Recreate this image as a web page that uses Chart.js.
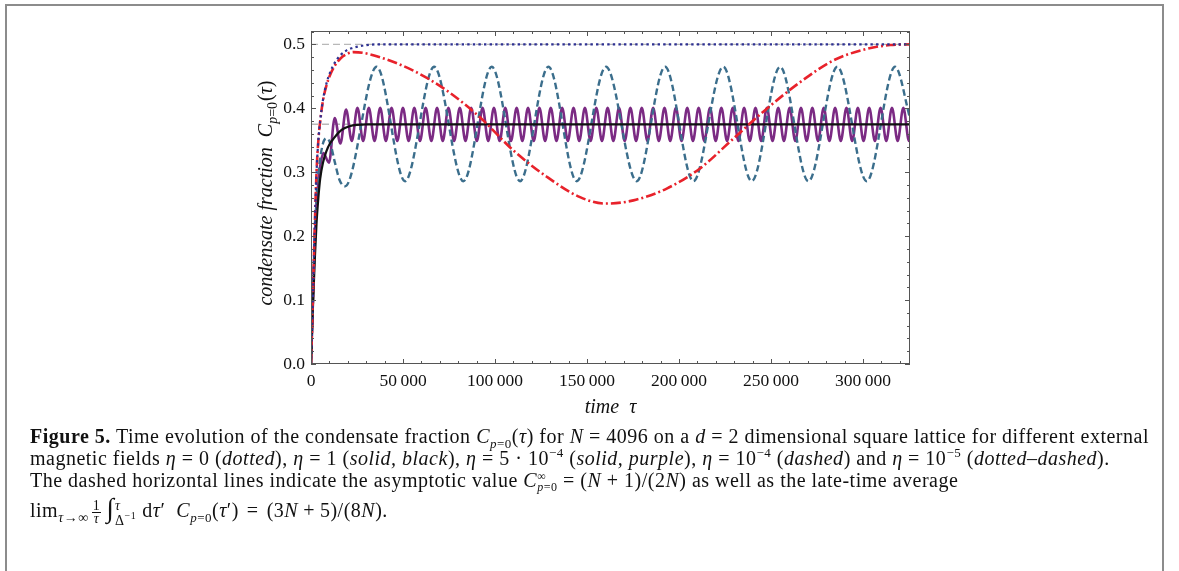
<!DOCTYPE html>
<html><head><meta charset="utf-8">
<script src="https://cdn.jsdelivr.net/npm/chart.js@4.4.1/dist/chart.umd.min.js"></script>
<style>
html,body{margin:0;padding:0;background:#fff;}
body{width:1179px;height:571px;position:relative;overflow:hidden;font-family:"Liberation Serif","Times New Roman",serif;color:#111;}
#frame{position:absolute;left:5px;top:4px;width:1155px;height:600px;border-left:2px solid #8c8c8c;border-top:2px solid #8c8c8c;border-right:2px solid #8c8c8c;}
#wrap{position:absolute;left:0;top:0;width:1179px;height:430px;}
#cap{position:absolute;left:30px;top:425px;font-size:20px;letter-spacing:0.5px;line-height:22px;white-space:nowrap;}
#cap i{font-style:italic;}
.frac{display:inline-block;vertical-align:middle;text-align:center;font-size:14px;line-height:12px;margin:0 3px;}
.frac span{display:block;}
.frac .n{border-bottom:0.8px solid #111;padding:0 1px;}
.int{display:inline-block;position:relative;font-size:27px;margin-left:2px;}
.lims{display:inline-block;vertical-align:middle;font-size:14px;line-height:15px;margin-left:1px;margin-right:6px;}
.lims span{display:block;}
sub,sup{font-size:13px;line-height:0;}
.eq{margin:0 8px;}
.pl{margin:0 5px;}
</style></head><body>
<div id="frame"></div>
<div id="wrap"><canvas id="c" width="1179" height="430"></canvas></div>
<div id="cap">
<div><b>Figure 5.</b> Time evolution of the condensate fraction <i>C</i><sub><i>p</i>=0</sub>(<i>τ</i>) for <i>N</i> = 4096 on a <i>d</i> = 2 dimensional square lattice for different external</div>
<div>magnetic fields <i>η</i> = 0 (<i>dotted</i>), <i>η</i> = 1 (<i>solid, black</i>), <i>η</i> = 5 · 10<sup>−4</sup> (<i>solid, purple</i>), <i>η</i> = 10<sup>−4</sup> (<i>dashed</i>) and <i>η</i> = 10<sup>−5</sup> (<i>dotted–dashed</i>).</div>
<div>The dashed horizontal lines indicate the asymptotic value <i>C</i><span style="display:inline-block;vertical-align:middle;font-size:12px;line-height:11px;"><span style="display:block">∞</span><span style="display:block"><i>p</i>=0</span></span> = (<i>N</i> + 1)/(2<i>N</i>) as well as the late-time average</div>
<div style="margin-top:4px">lim<sub style="font-size:14px"><i>τ</i>→∞</sub><span class="frac"><span class="n">1</span><span><i>τ</i></span></span><span class="int">∫</span><span class="lims"><span><i>τ</i></span><span>Δ<sup style="font-size:10px">−1</sup></span></span>d<i>τ</i>′&nbsp; <i>C</i><sub><i>p</i>=0</sub>(<i>τ</i>′)<span class="eq">=</span>(3<i>N</i><span class="pl">+</span>5)/(8<i>N</i>).</div>
</div>
<script>
// ---- data (tau, condensate fraction) ----
const xTicks = [0, 50000, 100000, 150000, 200000, 250000, 300000];
const xTickLabels = ['0', '50\u2009000', '100\u2009000', '150\u2009000', '200\u2009000', '250\u2009000', '300\u2009000'];
const yTicks = [0, 0.1, 0.2, 0.3, 0.4, 0.5];
const yTickLabels = ['0.0', '0.1', '0.2', '0.3', '0.4', '0.5'];

const asymptoteValue = 0.5;      // (N+1)/(2N)
const lateAverageValue = 0.375;  // (3N+5)/(8N)

const blueTau = [0,1000,2000,3000,4000,5000,6500,8500,10500,13000,16000,19000,22000,26000,30000,36000,325500];
const blueC   = [0,0.10,0.21,0.30,0.35,0.38,0.413,0.44,0.457,0.472,0.483,0.49,0.494,0.497,0.499,0.5,0.5];

const blackTau = [0,1000,2000,3000,4000,5000,6500,8500,10300,12100,15000,17600,21000,24800,30000,325500];
const blackC   = [0,0.085,0.16,0.22,0.26,0.29,0.315,0.334,0.345,0.352,0.362,0.368,0.372,0.374,0.375,0.375];

// eta = 5e-4: rise, then peaks / troughs
const purpleTau = [0,1000,2000,3000,4200,5300,
 6700,9790,12880,15970,19060,22150,
 25240,28330,31420,34510,37600,40690,43780,46870,49960,53050,56140,59230,62320,65410,68500,71590,74680,77770,
 80860,83950,87040,90130,93220,96310,99400,102490,105580,108670,111760,114850,117940,121030,124120,127210,
 130300,133390,136480,139570,142660,145750,148840,151930,155020,158110,161200,164290,167380,170470,173560,176650,
 179740,182830,185920,189010,192100,195190,198280,201370,204460,207550,210640,213730,216820,219910,223000,226090,
 229180,232270,235360,238450,241540,244630,247720,250810,253900,256990,260080,263170,266260,269350,272440,275530,
 278620,281710,284800,287890,290980,294070,297160,300250,303340,306430,309520,312610,315700,318790,321880,324970,
 325500];
const purpleC = [0,0.10,0.19,0.25,0.29,0.315,
 0.33,0.315,0.385,0.345,0.398,0.349,
 0.401,0.349,0.401,0.349,0.401,0.349,0.401,0.349,0.401,0.349,0.401,0.349,0.401,0.349,0.401,0.349,0.401,0.349,
 0.401,0.349,0.401,0.349,0.401,0.349,0.401,0.349,0.401,0.349,0.401,0.349,0.401,0.349,0.401,0.349,
 0.401,0.349,0.401,0.349,0.401,0.349,0.401,0.349,0.401,0.349,0.401,0.349,0.401,0.349,0.401,0.349,
 0.401,0.349,0.401,0.349,0.401,0.349,0.401,0.349,0.401,0.349,0.401,0.349,0.401,0.349,0.401,0.349,
 0.401,0.349,0.401,0.349,0.401,0.349,0.401,0.349,0.401,0.349,0.401,0.349,0.401,0.349,0.401,0.349,
 0.401,0.349,0.401,0.349,0.401,0.349,0.401,0.349,0.401,0.349,0.401,0.349,0.401,0.349,0.401,0.349,
 0.351];

const tealTau = [0,1000,2000,3000,4500,6500,8500,10500,13000,15500,18500,
 35700,51100,66900,82800,98200,113600,129000,144400,160300,177000,192400,207800,224000,239500,254900,270300,286000,302000,317400,325500];
const tealC = [0,0.10,0.19,0.26,0.31,0.345,0.353,0.345,0.315,0.288,0.278,
 0.465,0.286,0.465,0.286,0.465,0.286,0.465,0.286,0.465,0.286,0.465,0.286,0.465,0.286,0.465,0.286,0.465,0.286,0.465,0.385];

const redTau = [0,1000,2000,3000,4000,5000,6500,8500,10500,13000,16000,19500,23000,28000,37500,55600,73700,91800,
 110000,128100,146200,160000,175200,193300,211400,229500,247700,265800,283900,302000,314700,325500];
const redC = [0,0.10,0.21,0.30,0.35,0.38,0.412,0.437,0.453,0.467,0.478,0.485,0.488,0.487,0.480,0.459,0.428,0.386,
 0.334,0.293,0.261,0.251,0.256,0.2745,0.306,0.3526,0.3995,0.441,0.475,0.493,0.499,0.5];

const xMin = 0, xMax = 325500, yMin = 0, yMax = 0.521;
const xMinorStep = 10000, yMinorStep = 0.02;

const pts = (t, c) => t.map((v, i) => ({x: v, y: c[i]}));

const serif = '"Liberation Serif","Times New Roman",serif';

const framePlugin = {
  id: 'framePlugin',
  afterDatasetsDraw(chart) {
    const {ctx, chartArea: a, scales: {x, y}} = chart;
    ctx.save();
    ctx.strokeStyle = '#555';
    ctx.lineWidth = 1;
    ctx.strokeRect(Math.round(a.left) + 0.5, Math.round(a.top) + 0.5, Math.round(a.right - a.left) - 1, Math.round(a.bottom - a.top) - 1);
    ctx.beginPath();
    const maj = 5, mn = 3;
    for (let v = 0; v <= xMax + 1; v += xMinorStep) {
      const isMaj = xTicks.includes(v);
      const L = isMaj ? maj : mn;
      const px = Math.round(x.getPixelForValue(v)) + 0.5;
      ctx.moveTo(px, a.bottom); ctx.lineTo(px, a.bottom - L);
      ctx.moveTo(px, a.top); ctx.lineTo(px, a.top + L);
    }
    for (let k = 0; k * yMinorStep <= yMax + 1e-9; k++) {
      const v = k * yMinorStep;
      const isMaj = k % 5 === 0;
      const L = isMaj ? maj : mn;
      const py = Math.round(y.getPixelForValue(v)) + 0.5;
      ctx.moveTo(a.left, py); ctx.lineTo(a.left + L, py);
      ctx.moveTo(a.right, py); ctx.lineTo(a.right - L, py);
    }
    ctx.stroke();
    // axis titles
    ctx.fillStyle = '#111';
    ctx.textBaseline = 'alphabetic';
    ctx.font = 'italic 20px ' + serif;
    ctx.textAlign = 'center';
    ctx.fillText('time  \u03c4', (a.left + a.right) / 2, 413);
    // rotated y title with subscript
    ctx.save();
    ctx.translate(272, 193);
    ctx.rotate(-Math.PI / 2);
    ctx.textAlign = 'left';
    const f1 = 'italic 20px ' + serif, f2 = 'italic 14px ' + serif, f3 = '20px ' + serif;
    const s1 = 'condensate fraction  C', s2 = 'p', s2b = '=0', s3a = '(', s3b = '\u03c4', s3c = ')';
    ctx.font = f1; const w1 = ctx.measureText(s1).width;
    ctx.font = f2; const w2 = ctx.measureText(s2).width;
    ctx.font = '14px ' + serif; const w2b = ctx.measureText(s2b).width;
    ctx.font = f3; const w3a = ctx.measureText(s3a).width, w3c = ctx.measureText(s3c).width;
    ctx.font = f1; const w3b = ctx.measureText(s3b).width;
    const total = w1 + w2 + w2b + w3a + w3b + w3c + 1;
    let cx = -total / 2;
    ctx.font = f1; ctx.fillText(s1, cx, 0); cx += w1;
    ctx.font = f2; ctx.fillText(s2, cx, 5); cx += w2;
    ctx.font = '14px ' + serif; ctx.fillText(s2b, cx, 5); cx += w2b + 1;
    ctx.font = f3; ctx.fillText(s3a, cx, 0); cx += w3a;
    ctx.font = f1; ctx.fillText(s3b, cx, 0); cx += w3b;
    ctx.font = f3; ctx.fillText(s3c, cx, 0);
    ctx.restore();
    ctx.restore();
  }
};

const common = {pointRadius: 0, fill: false, cubicInterpolationMode: 'monotone'};

new Chart(document.getElementById('c'), {
  type: 'line',
  data: {
    datasets: [
      Object.assign({label: 'eta=0', data: pts(blueTau, blueC), borderColor: '#2e3192', borderWidth: 2.2, borderDash: [2.4, 3.2], order: 0}, common),
      Object.assign({label: 'eta=1e-5', data: pts(redTau, redC), borderColor: '#e8222b', borderWidth: 2.6, borderDash: [10, 3, 2, 3], order: 1}, common),
      Object.assign({label: 'eta=1', data: pts(blackTau, blackC), borderColor: '#111111', borderWidth: 2.2, order: 2}, common),
      Object.assign({label: 'eta=1e-4', data: pts(tealTau, tealC), borderColor: '#3b6e8c', borderWidth: 2.4, borderDash: [6.5, 3.5], order: 3}, common),
      Object.assign({label: 'eta=5e-4', data: pts(purpleTau, purpleC), borderColor: '#7b2a83', borderWidth: 2.6, order: 4}, common),
      Object.assign({label: 'asymptote', data: [{x: xMin, y: asymptoteValue}, {x: xMax, y: asymptoteValue}], borderColor: '#b8b8b8', borderWidth: 1.4, borderDash: [7, 4], order: 5}, common),
      Object.assign({label: 'late average', data: [{x: xMin, y: lateAverageValue}, {x: xMax, y: lateAverageValue}], borderColor: '#b8b8b8', borderWidth: 1.4, borderDash: [7, 4], order: 6}, common)
    ]
  },
  options: {
    responsive: false,
    animation: false,
    devicePixelRatio: 1,
    layout: {padding: {left: 0, right: 269, top: 31, bottom: 0}},
    plugins: {legend: {display: false}, tooltip: {enabled: false}},
    scales: {
      x: {
        type: 'linear', min: xMin, max: xMax,
        grid: {display: false, drawTicks: false}, border: {display: false},
        afterBuildTicks: s => { s.ticks = xTicks.map(v => ({value: v})); },
        afterFit: s => { s.height = 66; },
        ticks: {color: '#111', font: {family: serif, size: 17.5}, padding: 7, maxRotation: 0, autoSkip: false,
          callback: (v) => xTickLabels[xTicks.indexOf(v)]}
      },
      y: {
        type: 'linear', min: yMin, max: yMax,
        grid: {display: false, drawTicks: false}, border: {display: false},
        afterBuildTicks: s => { s.ticks = yTicks.map(v => ({value: v})); },
        afterFit: s => { s.width = 311; },
        ticks: {color: '#111', font: {family: serif, size: 17.5}, padding: 6, autoSkip: false,
          callback: (v) => yTickLabels[yTicks.findIndex(t => Math.abs(t - v) < 1e-9)]}
      }
    }
  },
  plugins: [framePlugin]
});
</script>
</body></html>
